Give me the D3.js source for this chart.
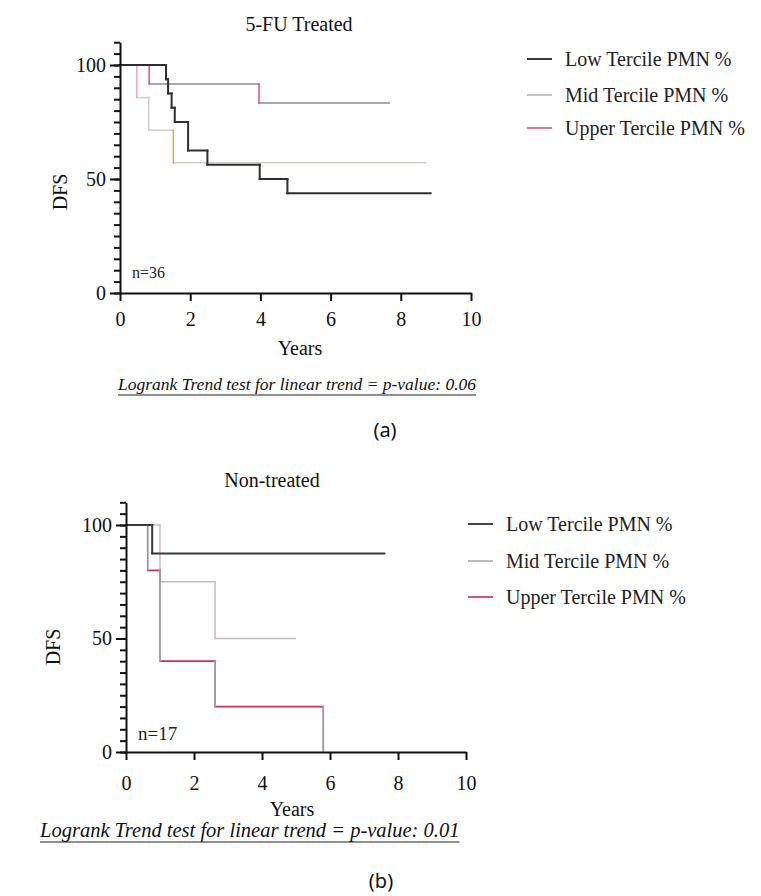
<!DOCTYPE html>
<html>
<head>
<meta charset="utf-8">
<script src="https://cdn.jsdelivr.net/npm/d3@7"></script>
<style>
  html, body { margin: 0; padding: 0; background: #ffffff; }
  svg { display: block; }
</style>
</head>
<body>
<svg id="fig" width="761" height="896"></svg>
<script>
// ---- Data: Kaplan–Meier disease-free survival (%) by PMN % tercile ----
const seriesNames = ["Low Tercile PMN %", "Mid Tercile PMN %", "Upper Tercile PMN %"];
const xTicks = [0, 2, 4, 6, 8, 10];
const yMajorTicks = [0, 50, 100];

// (a) 5-FU treated, n = 36
const treatedLowTimes   = [1.31, 1.37, 1.47, 1.56, 1.94, 2.49, 3.98, 4.77];
const treatedLowSurv    = [93.75, 87.5, 81.25, 75, 62.5, 56.25, 50, 43.75];
const treatedLowEnd     = 8.85;
const treatedMidTimes   = [0.48, 0.82, 1.52];
const treatedMidSurv    = [85.7, 71.4, 57.1];
const treatedMidEnd     = 8.7;
const treatedUpperTimes = [0.83, 3.96];
const treatedUpperSurv  = [91.7, 83.3];
const treatedUpperEnd   = 7.67;

// (b) Non-treated, n = 17
const untreatedLowTimes   = [0.77];
const untreatedLowSurv    = [87.5];
const untreatedLowEnd     = 7.6;
const untreatedMidTimes   = [1.0, 2.62];
const untreatedMidSurv    = [75, 50];
const untreatedMidEnd     = 4.98;
const untreatedUpperTimes = [0.64, 1.0, 2.62, 5.8];
const untreatedUpperSurv  = [80, 40, 20, 0];
const untreatedUpperEnd   = 5.8;

const SERIF = "'Liberation Serif', 'Times New Roman', serif";
const svg = d3.select("#fig");

// Build horizontal and vertical segments of a step curve
function stepSegments(times, surv, end) {
  const h = [], v = [];
  let t0 = 0, s0 = 100;
  times.forEach((t, i) => {
    h.push({ x1: t0, x2: t, y: s0 });
    v.push({ x: t, y1: s0, y2: surv[i], i });
    t0 = t; s0 = surv[i];
  });
  if (end > t0) h.push({ x1: t0, x2: end, y: s0 });
  return { h, v };
}

function drawPanel(cfg) {
  const g = svg.append("g");
  const x = d3.scaleLinear().domain([0, 10]).range([cfg.left, cfg.right]);
  const y = d3.scaleLinear().domain([0, 110]).range([cfg.bottom, cfg.bottom - 110 * cfg.pxPerUnit]);

  // curves (drawn beneath the axes)
  const curves = g.append("g").attr("fill", "none").attr("stroke-linecap", "square");
  cfg.series.forEach(s => {
    const seg = stepSegments(s.times, s.surv, s.end);
    curves.append("g").selectAll("line").data(seg.h).join("line")
      .attr("x1", d => x(d.x1)).attr("x2", d => x(d.x2))
      .attr("y1", d => y(d.y)).attr("y2", d => y(d.y))
      .attr("stroke", s.hColor).attr("stroke-width", s.width);
    curves.append("g").selectAll("line").data(seg.v).join("line")
      .attr("x1", d => x(d.x)).attr("x2", d => x(d.x))
      .attr("y1", d => y(d.y1)).attr("y2", d => y(d.y2))
      .attr("stroke", d => Array.isArray(s.vColor) ? s.vColor[d.i] : s.vColor)
      .attr("stroke-width", s.width);
  });

  // y axis: minor ticks every 5, major labelled ticks
  const yMinor = g.append("g").attr("transform", `translate(${cfg.left},0)`)
    .call(d3.axisLeft(y).tickValues(d3.range(0, 111, 5)).tickSize(6).tickFormat("").tickSizeOuter(0));
  const yMajor = g.append("g").attr("transform", `translate(${cfg.left},0)`)
    .call(d3.axisLeft(y).tickValues(yMajorTicks).tickSize(10).tickPadding(4).tickSizeOuter(0));
  yMajor.select(".domain").remove();

  const xAxis = g.append("g").attr("transform", `translate(0,${cfg.bottom})`)
    .call(d3.axisBottom(x).tickValues(xTicks).tickSize(8).tickPadding(cfg.xPad).tickSizeOuter(0));

  [yMinor, yMajor, xAxis].forEach(a => {
    a.attr("font-family", SERIF).attr("font-size", 20);
    a.selectAll("path, line").attr("stroke", "#111").attr("stroke-width", 2);
    a.selectAll("text").attr("font-family", SERIF).attr("font-size", 20).attr("fill", "#111");
  });

  const T = (xx, yy, txt, size) => g.append("text").attr("x", xx).attr("y", yy)
    .attr("font-family", SERIF).attr("font-size", size).attr("fill", "#111").text(txt);

  // titles and labels
  T(cfg.titleX, cfg.titleY, cfg.title, 20).attr("text-anchor", "middle");
  g.append("text").attr("font-family", SERIF)
    .attr("transform", `translate(${cfg.dfsX},${cfg.dfsY}) rotate(-90)`)
    .attr("text-anchor", "middle").attr("dy", "0.35em").attr("font-size", 20).attr("fill", "#111").text("DFS");
  T(cfg.yearsX, cfg.yearsY, "Years", 20).attr("text-anchor", "middle");
  T(cfg.left + 12, cfg.nY, cfg.nText, cfg.nSize).attr("dy", "0.35em").attr("fill", "#222");

  // logrank note, italic and underlined
  const note = T(cfg.noteX, cfg.noteY, cfg.note, cfg.noteSize).attr("font-style", "italic");
  const w = note.node().getComputedTextLength();
  g.append("line").attr("x1", cfg.noteX).attr("x2", cfg.noteX + w)
    .attr("y1", cfg.noteY + 5).attr("y2", cfg.noteY + 5)
    .attr("stroke", "#222").attr("stroke-width", 1.2);

  g.append("text").attr("x", cfg.tagX).attr("y", cfg.tagY).attr("dy", "0.35em")
    .attr("text-anchor", "middle").attr("font-family", "'Noto Sans', sans-serif")
    .attr("font-size", 20).attr("fill", "#111").text(cfg.tag);

  // legend
  const leg = g.append("g");
  seriesNames.forEach((name, i) => {
    const yy = cfg.legendY[i];
    leg.append("line").attr("x1", cfg.legendX).attr("x2", cfg.legendX + 25)
      .attr("y1", yy).attr("y2", yy).attr("stroke", cfg.legendColors[i]).attr("stroke-width", 2);
    leg.append("text").attr("font-family", SERIF).attr("x", cfg.legendX + 38).attr("y", yy)
      .attr("dy", "0.33em").attr("font-size", 20).attr("fill", "#222").text(name);
  });
}

drawPanel({
  left: 120, right: 471, bottom: 293, pxPerUnit: 2.28, xPad: 11,
  title: "5-FU Treated", titleX: 299, titleY: 31,
  dfsX: 60, dfsY: 192, yearsX: 300, yearsY: 355,
  nText: "n=36", nY: 272, nSize: 16,
  note: "Logrank Trend test for linear trend = p-value: 0.06", noteX: 118, noteY: 390, noteSize: 17.5,
  tag: "(a)", tagX: 385, tagY: 430,
  legendX: 527, legendY: [59, 95, 128], legendColors: ["#3a3a3a", "#c8c8c8", "#d77a95"],
  series: [
    { times: treatedMidTimes, surv: treatedMidSurv, end: treatedMidEnd, hColor: "#d0d0c8",
      vColor: ["#e8a6bf", "#cfcfcf", "#e8a23a"], width: 1.5 },
    { times: treatedUpperTimes, surv: treatedUpperSurv, end: treatedUpperEnd, hColor: "#8c8c8c",
      vColor: "#d9507f", width: 1.5 },
    { times: treatedLowTimes, surv: treatedLowSurv, end: treatedLowEnd, hColor: "#2e2e2e",
      vColor: "#2e2e2e", width: 2 }
  ]
});

drawPanel({
  left: 126, right: 466, bottom: 752, pxPerUnit: 2.27, xPad: 16,
  title: "Non-treated", titleX: 272, titleY: 487,
  dfsX: 53, dfsY: 647, yearsX: 292, yearsY: 816,
  nText: "n=17", nY: 733, nSize: 19,
  note: "Logrank Trend test for linear trend = p-value: 0.01", noteX: 40, noteY: 837, noteSize: 20.5,
  tag: "(b)", tagX: 381, tagY: 881,
  legendX: 468, legendY: [524, 561, 597], legendColors: ["#444444", "#bbbbbb", "#d9507a"],
  series: [
    { times: untreatedMidTimes, surv: untreatedMidSurv, end: untreatedMidEnd, hColor: "#bdbdbd",
      vColor: "#c8bcc2", width: 1.5 },
    { times: untreatedUpperTimes, surv: untreatedUpperSurv, end: untreatedUpperEnd, hColor: "#d42a5c",
      vColor: "#9a9a9a", width: 1.8 },
    { times: untreatedLowTimes, surv: untreatedLowSurv, end: untreatedLowEnd, hColor: "#3a3a3a",
      vColor: "#3a3a3a", width: 2 }
  ]
});
</script>
</body>
</html>
